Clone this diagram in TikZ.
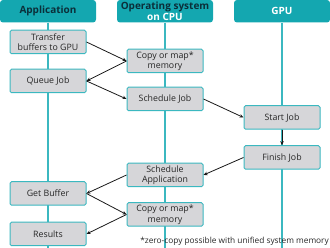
\documentclass[tikz,border=0pt]{standalone}
\usepackage{fontspec}
\setmainfont{Open Sans}
\usetikzlibrary{arrows.meta}
\definecolor{teal1}{HTML}{14A7B0}
\definecolor{tealline}{HTML}{3BB8C0}
\definecolor{darktxt}{HTML}{0B2F3A}
\definecolor{boxfill}{HTML}{D6D6D9}
\tikzset{
  header/.style={fill=teal1, rounded corners=3pt, minimum width=96pt, minimum height=22.5pt, inner sep=0pt, font=\fontsize{10}{10.5}\selectfont\bfseries, align=center},
  stepbox/.style={draw=tealline, line width=1pt, fill=boxfill, rounded corners=1.5pt, minimum width=76pt, minimum height=23.5pt, inner sep=0pt, font=\fontsize{8.8}{10.5}\selectfont, text=black!85, align=center},
  life/.style={draw=tealline, line width=1.2pt},
  conn/.style={draw=black!90, line width=0.8pt, -{Stealth[length=4pt,width=3.5pt]}}
}
\begin{document}
\begin{tikzpicture}[x=1pt,y=-1pt]
\useasboundingbox (0,0) rectangle (330,248);
% headers
\node[header, text=darktxt] (happ) at (48,11.25) {Application};
\node[header] (hos) at (165,11.25) {\textcolor{darktxt}{Operating system}\\\textcolor{white}{on CPU}};
\node[header, text=white] (hgpu) at (282,11.25) {GPU};
% lifeline ends
\coordinate (eapp) at (48,248);
\coordinate (eos) at (165,248);
\coordinate (egpu) at (282,248);
\draw[life] (happ.south) -- (eapp);
\draw[life] (hos.south) -- (eos);
\draw[life] (hgpu.south) -- (egpu);
% boxes
\node[stepbox] (transfer) at (48,42) {Transfer\\buffers to GPU};
\node[stepbox] (queue) at (48,81) {Queue Job};
\node[stepbox] (getbuf) at (48,193.5) {Get Buffer};
\node[stepbox] (results) at (48,234) {Results};
\node[stepbox] (copy1) at (165,61) {Copy or map*\\memory};
\node[stepbox] (schedjob) at (165,99) {Schedule Job};
\node[stepbox] (schedapp) at (165,175) {Schedule\\Application};
\node[stepbox] (copy2) at (165,214.5) {Copy or map*\\memory};
\node[stepbox] (start) at (282,117.5) {Start Job};
\node[stepbox] (finish) at (282,157.5) {Finish Job};
% connectors
\draw[conn] (transfer.east) -- (copy1.west);
\draw[conn] (copy1.west) -- (queue.east);
\draw[conn] (queue.east) -- (schedjob.west);
\draw[conn] (schedjob.east) -- (start.west);
\draw[conn] (start.south) -- (finish.north);
\draw[conn] (finish.west) -- (schedapp.east);
\draw[conn] (schedapp.west) -- (getbuf.east);
\draw[conn] (getbuf.east) -- (copy2.west);
\draw[conn] (copy2.west) -- (results.east);
% footnote
\node[anchor=east, inner sep=0pt, font=\fontsize{8.3}{9}\selectfont, text=black!85] (note) at (329,241.5) {*zero-copy possible with unified system memory};
\end{tikzpicture}
\end{document}
